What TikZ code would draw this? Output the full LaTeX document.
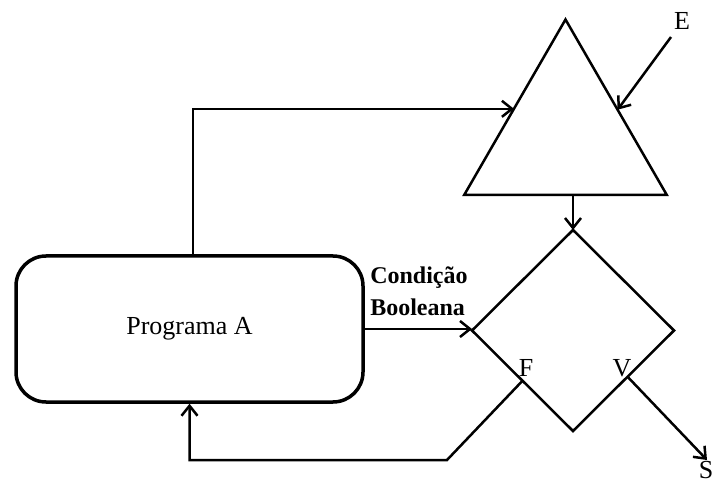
\documentclass[tikz,border=0pt]{standalone}
\usepackage{fontspec}
\setmainfont{Liberation Serif}
\usetikzlibrary{arrows.meta,shapes.geometric,calc}
\begin{document}
\begin{tikzpicture}[x=1pt,y=-1pt,
  line width=2.5pt,
  arr/.style={-{Straight Barb[length=10pt,width=16pt]}},
  lbl/.style={font=\fontsize{26}{31}\selectfont, inner sep=0pt},
  progbox/.style={draw, line width=3.5pt, rounded corners=30pt, minimum width=347pt, minimum height=146pt, inner sep=0pt, font=\fontsize{26}{31}\selectfont},
  tribox/.style={draw, regular polygon, regular polygon sides=3, minimum size=234pt, inner sep=0pt, outer sep=0pt},
  diabox/.style={draw, diamond, minimum width=202pt, minimum height=201pt, inner sep=0pt, outer sep=0pt}
]
\useasboundingbox (0,0) rectangle (720,486);
\node[progbox] (prog) at (189.5,329) {Programa A};
\node[tribox] (tri) at (565.5,136.5) {};
\node[diabox] (dia) at (573,330.5) {};
% triangle side points
\coordinate (tl) at ($(tri.corner 1)!0.509!(tri.corner 2)$);
\coordinate (tr) at ($(tri.corner 1)!0.514!(tri.corner 3)$);
\coordinate (etail) at (671,37);
\coordinate (fp) at ($(dia.west)!0.5!(dia.south)$);
\coordinate (vp) at ($(dia.south)!0.54!(dia.east)$);
\coordinate (fbend) at (447,460);
\coordinate (send) at (707,460);
% connectors
\draw[arr] ([xshift=3.5pt]prog.north) |- (tl);
\draw[arr] (etail) -- (tr);
\draw[arr] (tri.side 2 -| dia.north) -- (dia.north);
\draw[arr] (prog.east) -- (prog.east -| dia.west);
\draw[arr] (fp) -- (fbend) -| (prog.south);
\draw[arr] (vp) -- (send);
% labels
\node[lbl] (le) at (682,21) {E};
\node[lbl] (lf) at (526,368) {F};
\node[lbl] (lv) at (622,368) {V};
\node[lbl] (ls) at (706,470) {S};
\node[font=\fontsize{24}{32}\selectfont\bfseries, align=left, inner sep=0pt, anchor=west] (cond) at (369,291) {Condição\\Booleana};
\end{tikzpicture}
\end{document}
